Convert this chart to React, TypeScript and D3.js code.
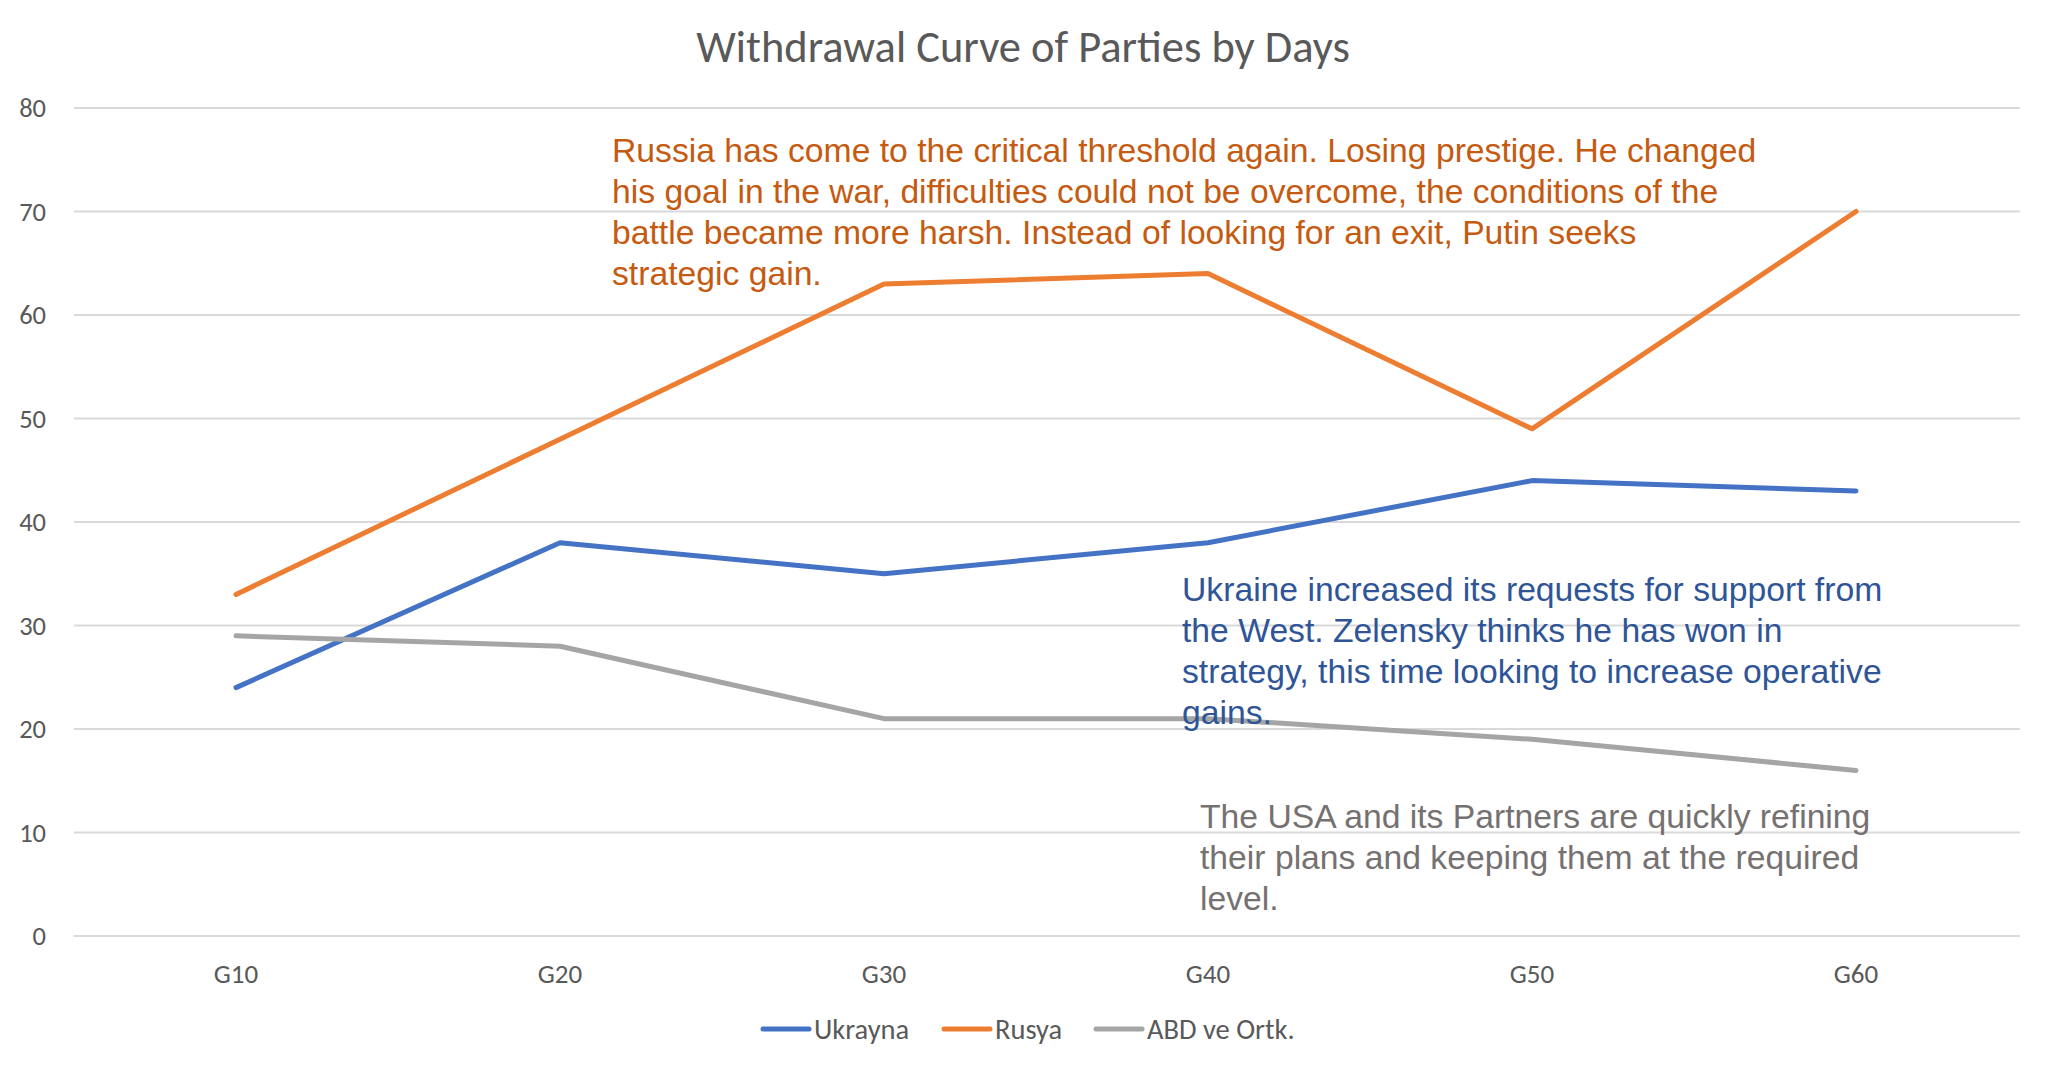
import React from "react";
import * as d3 from "d3";

const categories = ["G10", "G20", "G30", "G40", "G50", "G60"];
const ukrayna = [24, 38, 35, 38, 44, 43];
const rusya = [33, 48, 63, 64, 49, 70];
const abd = [29, 28, 21, 21, 19, 16];
const yTicks = [0, 10, 20, 30, 40, 50, 60, 70, 80];

const seriesNames = ["Ukrayna", "Rusya", "ABD ve Ortk."];
const seriesColors = ["#4472C4", "#ED7D31", "#A5A5A5"];

const russiaNote = [
  "Russia has come to the critical threshold again. Losing prestige. He changed",
  "his goal in the war, difficulties could not be overcome, the conditions of the",
  "battle became more harsh. Instead of looking for an exit, Putin seeks",
  "strategic gain.",
];
const ukraineNote = [
  "Ukraine increased its requests for support from",
  "the West. Zelensky thinks he has won in",
  "strategy, this time looking to increase operative",
  "gains.",
];
const usaNote = [
  "The USA and its Partners are quickly refining",
  "their plans and keeping them at the required",
  "level.",
];

const W = 2048;
const H = 1071;
const left = 74;
const right = 2018;
const top = 108;
const bottom = 936;

const calibri = "Carlito, Lato, 'Open Sans', sans-serif";
const arial = "'Liberation Sans', Arial, sans-serif";

export default function App() {
  const x = d3.scaleBand<string>().domain(categories).range([left, right]);
  const y = d3.scaleLinear().domain([0, 80]).range([bottom, top]);
  const cx = (c: string) => (x(c) as number) + x.bandwidth() / 2;
  const line = d3
    .line<number>()
    .x((_, i) => cx(categories[i]))
    .y((d) => y(d));
  const series = [ukrayna, rusya, abd];

  const legendX = [763, 944, 1096];
  const legendY = 1029;

  return (
    <svg
      width={W}
      height={H}
      style={{ position: "absolute", left: 0, top: 0, background: "#fff" }}
    >
      <rect x={0} y={0} width={W} height={H} fill="#fff" />
      <text
        x={1023}
        y={62}
        textAnchor="middle"
        fontFamily={calibri}
        fontSize={44.5}
        fill="#595959"
      >
        Withdrawal Curve of Parties by Days
      </text>
      {yTicks.map((t) => (
        <g key={t}>
          <line x1={left} x2={right + 2} y1={y(t)} y2={y(t)} stroke="#D9D9D9" strokeWidth={2} />
          <text
            x={46}
            y={y(t)}
            dy="0.35em"
            textAnchor="end"
            fontFamily={calibri}
            fontSize={26.5}
            fill="#595959"
          >
            {t}
          </text>
        </g>
      ))}
      {categories.map((c) => (
        <text
          key={c}
          x={cx(c)}
          y={983}
          textAnchor="middle"
          fontFamily={calibri}
          fontSize={27}
          fill="#595959"
        >
          {c}
        </text>
      ))}
      {series.map((s, i) => (
        <path
          key={i}
          d={line(s) || ""}
          fill="none"
          stroke={seriesColors[i]}
          strokeWidth={5}
          strokeLinejoin="round"
          strokeLinecap="round"
        />
      ))}
      {russiaNote.map((l, i) => (
        <text key={i} x={612} y={162 + i * 41} fontFamily={arial} fontSize={33.7} fill="#C55A11">
          {l}
        </text>
      ))}
      {ukraineNote.map((l, i) => (
        <text key={i} x={1182} y={601 + i * 41} fontFamily={arial} fontSize={33.7} fill="#2F5597">
          {l}
        </text>
      ))}
      {usaNote.map((l, i) => (
        <text key={i} x={1200} y={828 + i * 41} fontFamily={arial} fontSize={33.7} fill="#767171">
          {l}
        </text>
      ))}
      {seriesNames.map((n, i) => (
        <g key={n}>
          <line
            x1={legendX[i]}
            x2={legendX[i] + 46}
            y1={legendY}
            y2={legendY}
            stroke={seriesColors[i]}
            strokeWidth={5}
            strokeLinecap="round"
          />
          <text
            x={legendX[i] + 51}
            y={legendY}
            dy="0.35em"
            fontFamily={calibri}
            fontSize={28.5}
            fill="#595959"
          >
            {n}
          </text>
        </g>
      ))}
    </svg>
  );
}
